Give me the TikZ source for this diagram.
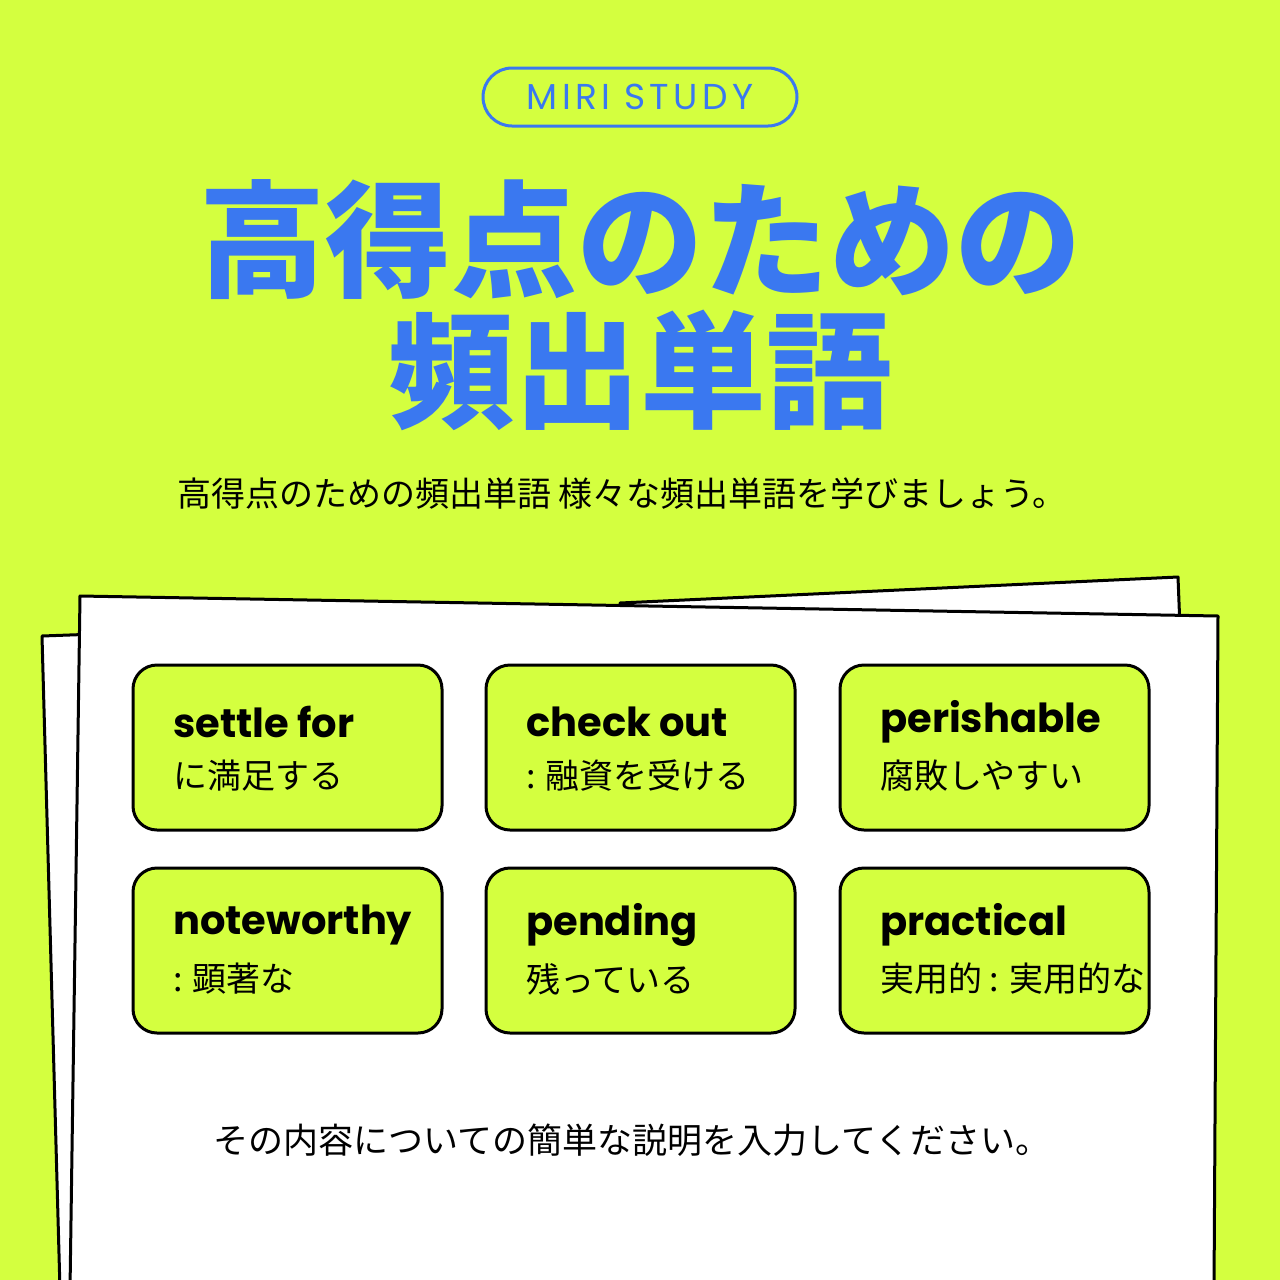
\documentclass[tikz,border=0pt]{standalone}
\usepackage{fontspec}
\newfontfamily\cjk{Noto Sans CJK JP}
\newfontfamily\pop[LetterSpace=12]{Poppins}
\newfontfamily\popb{Poppins Bold}
\definecolor{lime}{HTML}{D4FF3F}
\definecolor{blu}{HTML}{3A78F0}
\begin{document}
\begin{tikzpicture}[x=1pt,y=-1pt,
 paper/.style={fill=white,draw=black,line width=3pt,line join=round},
 card/.style={draw=black,fill=lime,line width=3pt,rounded corners=24pt},
 en/.style={anchor=west,font=\popb\fontsize{40}{44}\selectfont,inner sep=0pt},
 jp/.style={anchor=west,font=\cjk\fontsize{34}{38}\selectfont,inner sep=0pt}]
\fill[lime] (0,0) rectangle (1280,1280);
\useasboundingbox (0,0) rectangle (1280,1280);
% papers
\draw[paper] (60,1290) -- (42,636) -- (620,615) -- (620,1290);
\draw[paper] (620,1290) -- (620,603) -- (1178,577) -- (1206,1290);
\draw[paper] (70,1290) -- (80,596) -- (1218,616) -- (1214,1290);
% header
\node[draw=blu,line width=3pt,rounded corners=29pt,minimum width=314pt,minimum height=58pt,
 text=blu,font=\pop\fontsize{36}{40}\selectfont] (pill) at (640,97) {MIRI STUDY};
\node[text=blu,font=\cjk\bfseries\fontsize{126}{138}\selectfont,inner sep=0pt] (t1) at (640,240) {高得点のための};
\node[text=blu,font=\cjk\bfseries\fontsize{126}{138}\selectfont,inner sep=0pt] (t2) at (640,370) {頻出単語};
\node[font=\cjk\fontsize{34}{38}\selectfont,anchor=west,inner sep=0pt] (sub) at (177,494) {高得点のための頻出単語 様々な頻出単語を学びましょう。};
% cards
\foreach \x/\y/\e/\j [count=\i] in {133/665/settle for/に満足する,486/665/check out/: 融資を受ける,840/665/perishable/腐敗しやすい,133/868/noteworthy/: 顕著な,486/868/pending/残っている,840/868/practical/実用的 : 実用的な}{
 \draw[card] (\x,\y) rectangle ++(309,165);
 \node[en] (e\i) at (\x+40,\y+57) {\e};
 \node[jp] (j\i) at (\x+40,\y+111) {\j};
}
\node[font=\cjk\fontsize{35}{38}\selectfont,inner sep=0pt] (desc) at (632,1140) {その内容についての簡単な説明を入力してください。};
\end{tikzpicture}
\end{document}
